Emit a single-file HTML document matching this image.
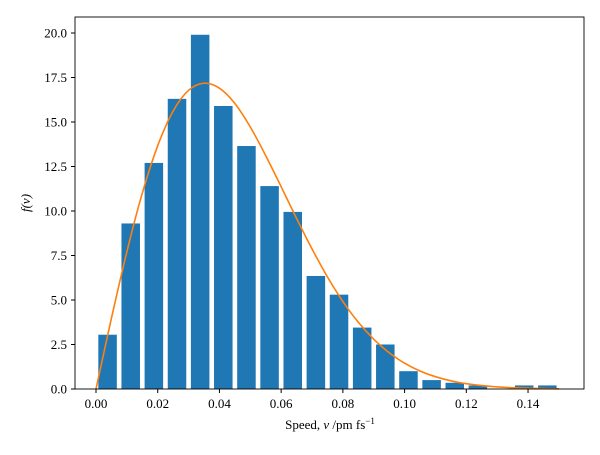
<!DOCTYPE html>
<html><head><meta charset="utf-8"><style>
body{margin:0;background:#fff;}
svg text{font-family:"Liberation Serif",serif;font-size:13px;fill:#000;}
</style></head><body>
<svg id="chart" width="600" height="450">
<g id="bars"></g>
<path id="curve" fill="none" stroke="#ff7f0e" stroke-width="1.6"/>
<rect x="75" y="17" width="509" height="372" fill="none" stroke="#000" stroke-width="0.9"/>
<g id="xt"></g>
<g id="yt"></g>
<text x="330" y="429" text-anchor="middle">Speed, <tspan font-style="italic">v</tspan> /pm fs<tspan font-size="9" dy="-5">−1</tspan></text>
<text transform="translate(30,203) rotate(-90)" text-anchor="middle" font-style="italic">f(v)</text>
</svg>
<script>
const binStarts=[0,0.0075,0.015,0.0225,0.03,0.0375,0.045,0.0525,0.06,0.0675,0.075,0.0825,0.09,0.0975,0.105,0.1125,0.12,0.1275,0.135,0.1425];
const binCounts=[3.05,9.3,12.7,16.3,19.9,15.9,13.65,11.4,9.95,6.35,5.3,3.45,2.5,1.0,0.5,0.35,0.2,0,0.2,0.2];
const curveX=[0,0.005,0.01,0.015,0.02,0.025,0.03,0.035,0.04,0.045,0.05,0.055,0.06,0.065,0.07,0.075,0.08,0.085,0.09,0.095,0.1,0.105,0.11,0.115,0.12,0.125,0.13,0.135,0.14,0.145,0.15];
const curveY=[0,3.97,7.71,11.0,13.67,15.62,16.78,17.18,16.9,16.04,14.72,13.11,11.36,9.58,7.87,6.3,4.91,3.75,2.8,2.04,1.45,1.01,0.69,0.46,0.3,0.19,0.12,0.07,0.04,0.03,0.01];
const xTicks=[0,0.02,0.04,0.06,0.08,0.10,0.12,0.14];
const xTickLabels=["0.00","0.02","0.04","0.06","0.08","0.10","0.12","0.14"];
const yTicks=[0,2.5,5,7.5,10,12.5,15,17.5,20];
const yTickLabels=["0.0","2.5","5.0","7.5","10.0","12.5","15.0","17.5","20.0"];
const binW=0.0075;
const X=v=>96+v*3086, Y=v=>389-v*17.8;
const NS="http://www.w3.org/2000/svg";
const bars=document.getElementById('bars');
binStarts.forEach((s,i)=>{
 if(binCounts[i]<=0)return;
 const r=document.createElementNS(NS,'rect');
 
 
 const x0=X(s+binW*0.1),x1=X(s+binW*0.9);
 r.setAttribute('x',x0);r.setAttribute('width',x1-x0);
 r.setAttribute('y',Y(binCounts[i]));r.setAttribute('height',Y(0)-Y(binCounts[i]));
 r.setAttribute('fill','#1f77b4');bars.appendChild(r);
});
const P=curveX.map((v,i)=>[X(v),Y(curveY[i])]);
let d='M'+P[0][0].toFixed(1)+','+P[0][1].toFixed(1);
for(let i=0;i<P.length-1;i++){
 const p0=P[Math.max(0,i-1)],p1=P[i],p2=P[i+1],p3=P[Math.min(P.length-1,i+2)];
 const c1=[p1[0]+(p2[0]-p0[0])/6,p1[1]+(p2[1]-p0[1])/6];
 const c2=[p2[0]-(p3[0]-p1[0])/6,p2[1]-(p3[1]-p1[1])/6];
 d+='C'+c1.map(n=>n.toFixed(1)).join(',')+' '+c2.map(n=>n.toFixed(1)).join(',')+' '+p2.map(n=>n.toFixed(1)).join(',');
}
document.getElementById('curve').setAttribute('d',d);
const xt=document.getElementById('xt');
xTicks.forEach((t,i)=>{
 const l=document.createElementNS(NS,'line');
 
 
 l.setAttribute('x1',X(t));l.setAttribute('x2',X(t));l.setAttribute('y1',389);l.setAttribute('y2',393);l.setAttribute('stroke','#000');xt.appendChild(l);
 const tx=document.createElementNS(NS,'text');
 
 
 tx.setAttribute('x',X(t));tx.setAttribute('y',408);tx.setAttribute('text-anchor','middle');tx.textContent=xTickLabels[i];xt.appendChild(tx);
});
const yt=document.getElementById('yt');
yTicks.forEach((t,i)=>{
 const l=document.createElementNS(NS,'line');
 
 
 l.setAttribute('x1',71);l.setAttribute('x2',75);l.setAttribute('y1',Y(t));l.setAttribute('y2',Y(t));l.setAttribute('stroke','#000');yt.appendChild(l);
 const tx=document.createElementNS(NS,'text');
 
 
 tx.setAttribute('x',67);tx.setAttribute('y',Y(t)+4.5);tx.setAttribute('text-anchor','end');tx.textContent=yTickLabels[i];yt.appendChild(tx);
});
</script>
</body></html>
